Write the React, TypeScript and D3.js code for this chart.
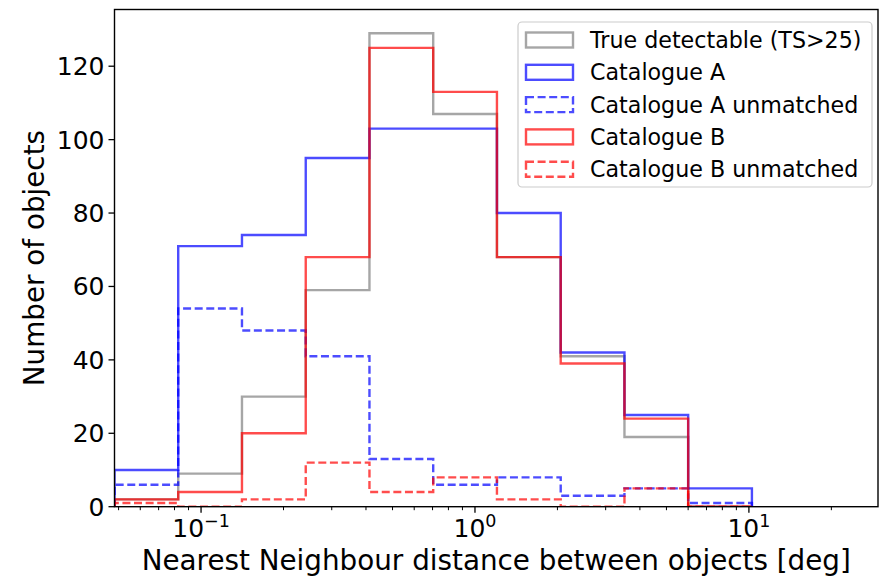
import React from 'react';
import * as d3 from 'd3';

// Histogram bin edges (deg), log-spaced
const BIN_EDGES = [0.04831, 0.08254, 0.14105, 0.2411, 0.4119, 0.7039, 1.2028, 2.0558, 3.5131, 6.0015, 10.257];

// Counts per bin for each sample
const TRUE_DETECTABLE = [2, 9, 30, 59, 129, 107, 68, 41, 19, 0];
const CAT_A = [10, 71, 74, 95, 103, 103, 80, 42, 25, 5];
const CAT_A_UNMATCHED = [6, 54, 48, 41, 13, 6, 8, 3, 5, 1];
const CAT_B = [2, 4, 20, 68, 125, 113, 68, 39, 24, 0];
const CAT_B_UNMATCHED = [1, 0, 2, 12, 4, 8, 2, 0, 5, 0];

const SERIES_LABELS = [
  'True detectable (TS>25)',
  'Catalogue A',
  'Catalogue A unmatched',
  'Catalogue B',
  'Catalogue B unmatched',
];

const Y_TICKS = [0, 20, 40, 60, 80, 100, 120];
const X_MAJOR_TICKS = [0.1, 1, 10];
const X_TICK_EXPONENTS = ['\u22121', '0', '1'];

const X_LABEL = 'Nearest Neighbour distance between objects [deg]';
const Y_LABEL = 'Number of objects';

const W = 879;
const H = 576;
const PLOT = { left: 114.5, right: 878, top: 9.5, bottom: 506.7 };
const FONT = 'DejaVu Sans, Verdana, sans-serif';

const series = [
  { label: SERIES_LABELS[0], counts: TRUE_DETECTABLE, color: '#808080', dashed: false },
  { label: SERIES_LABELS[1], counts: CAT_A, color: '#0000ff', dashed: false },
  { label: SERIES_LABELS[2], counts: CAT_A_UNMATCHED, color: '#0000ff', dashed: true },
  { label: SERIES_LABELS[3], counts: CAT_B, color: '#ff0000', dashed: false },
  { label: SERIES_LABELS[4], counts: CAT_B_UNMATCHED, color: '#ff0000', dashed: true },
];

export default function App() {
  const x = d3.scaleLog().domain([BIN_EDGES[0], 29.6]).range([PLOT.left, PLOT.right]);
  const yMax = d3.max([TRUE_DETECTABLE, CAT_A, CAT_B].flat()) as number;
  const y = d3.scaleLinear().domain([0, yMax * 1.05]).range([PLOT.bottom, PLOT.top]);

  // step outline: up from the baseline, across each bin, back down at the last edge
  const stepPath = (counts: number[]) => {
    const pts: [number, number][] = [[BIN_EDGES[0], 0]];
    counts.forEach((c, i) => {
      pts.push([BIN_EDGES[i], c]);
      pts.push([BIN_EDGES[i + 1], c]);
    });
    pts.push([BIN_EDGES[BIN_EDGES.length - 1], 0]);
    return d3.line<[number, number]>().x((d) => x(d[0])).y((d) => y(d[1]))(pts) as string;
  };

  const [dmin, dmax] = x.domain();
  const minorTicks: number[] = [];
  for (let k = -2; k <= 1; k++) {
    for (let m = 2; m <= 9; m++) {
      const v = m * Math.pow(10, k);
      if (v >= dmin && v <= dmax) minorTicks.push(v);
    }
  }

  const legend = { x: 518, y: 22, w: 354, h: 165, row0: 40, rowStep: 32.3 };

  return (
    <svg
      width={W}
      height={H}
      style={{ position: 'absolute', left: 0, top: 0, background: '#fff' }}
      fontFamily={FONT}
    >
      <defs>
        <clipPath id="plot-clip">
          <rect x={PLOT.left} y={PLOT.top} width={PLOT.right - PLOT.left} height={PLOT.bottom - PLOT.top} />
        </clipPath>
      </defs>

      <g clipPath="url(#plot-clip)">
        {series.map((s) => (
          <path
            key={s.label}
            d={stepPath(s.counts)}
            fill="none"
            stroke={s.color}
            strokeOpacity={0.7}
            strokeWidth={2.4}
            strokeDasharray={s.dashed ? '8,3.6' : undefined}
            strokeLinejoin="miter"
          />
        ))}
      </g>

      {/* spines */}
      <rect
        x={PLOT.left}
        y={PLOT.top}
        width={PLOT.right - PLOT.left}
        height={PLOT.bottom - PLOT.top}
        fill="none"
        stroke="#000"
        strokeWidth={1.4}
      />

      {/* y axis */}
      {Y_TICKS.map((t) => (
        <g key={`y${t}`}>
          <line x1={PLOT.left - 6} x2={PLOT.left} y1={y(t)} y2={y(t)} stroke="#000" strokeWidth={1.3} />
          <text x={PLOT.left - 10} y={y(t)} dy="0.36em" textAnchor="end" fontSize={25} fill="#000">
            {t}
          </text>
        </g>
      ))}

      {/* x axis */}
      {minorTicks.map((t) => (
        <line key={`m${t}`} x1={x(t)} x2={x(t)} y1={PLOT.bottom} y2={PLOT.bottom + 3.5} stroke="#000" strokeWidth={1} />
      ))}
      {X_MAJOR_TICKS.map((t, i) => (
        <g key={`x${t}`}>
          <line x1={x(t)} x2={x(t)} y1={PLOT.bottom} y2={PLOT.bottom + 6} stroke="#000" strokeWidth={1.3} />
          <text x={x(t)} y={537} textAnchor="middle" fontSize={25} fill="#000">
            <tspan>10</tspan>
            <tspan dy={-10} fontSize={17.5}>
              {X_TICK_EXPONENTS[i]}
            </tspan>
          </text>
        </g>
      ))}

      <text x={(PLOT.left + PLOT.right) / 2} y={570} textAnchor="middle" fontSize={27.8} fill="#000">
        {X_LABEL}
      </text>
      <text transform={`translate(44,${(PLOT.top + PLOT.bottom) / 2}) rotate(-90)`} textAnchor="middle" fontSize={27.8} fill="#000">
        {Y_LABEL}
      </text>

      {/* legend */}
      <rect
        x={legend.x}
        y={legend.y}
        width={legend.w}
        height={legend.h}
        rx={4}
        fill="#fff"
        fillOpacity={0.8}
        stroke="#cccccc"
        strokeWidth={1.2}
      />
      {series.map((s, i) => {
        const cy = legend.row0 + i * legend.rowStep;
        return (
          <g key={`lg${s.label}`}>
            <rect
              x={526}
              y={cy - 7.5}
              width={47}
              height={15}
              fill="none"
              stroke={s.color}
              strokeOpacity={0.7}
              strokeWidth={2.4}
              strokeDasharray={s.dashed ? '8,3.6' : undefined}
            />
            <text x={590} y={cy} dy="0.36em" fontSize={22.2} fill="#000">
              {s.label}
            </text>
          </g>
        );
      })}
    </svg>
  );
}
